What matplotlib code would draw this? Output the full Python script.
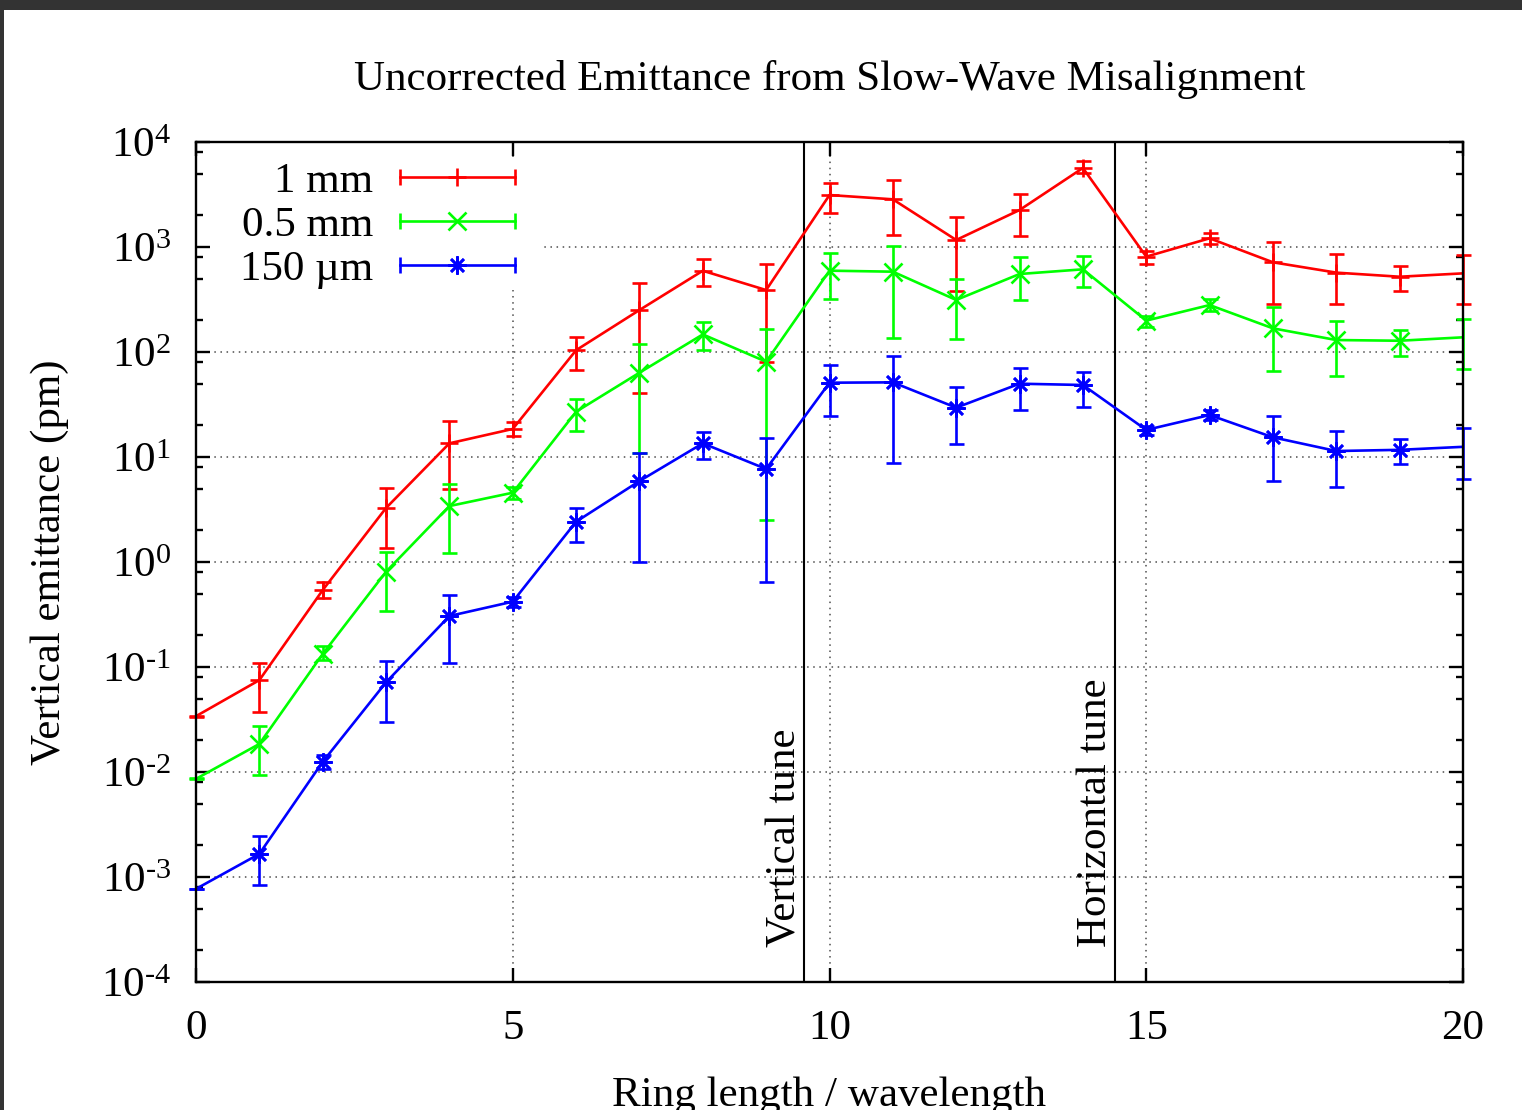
import numpy as np
import matplotlib
matplotlib.use('Agg')
import matplotlib.pyplot as plt
import matplotlib.transforms as mtransforms
from matplotlib.patches import Rectangle
from matplotlib.ticker import LogLocator, FixedLocator, NullFormatter, FuncFormatter

plt.rcParams['font.family'] = ['Liberation Serif', 'DejaVu Serif']
plt.rcParams['mathtext.default'] = 'regular'
plt.rcParams['mathtext.fontset'] = 'custom'
plt.rcParams['mathtext.rm'] = 'Liberation Serif'

# ring length / wavelength
ring = np.arange(21)

# 1 mm misalignment
emit_1mm = [0.034, 0.075, 0.54, 3.27, 13.5, 18.5, 104, 251, 594, 389, 3126, 2845,
            1166, 2250, 5654, 809, 1210, 715, 570, 521, 561]
lo_1mm = [0.0335, 0.037, 0.45, 1.36, 4.93, 15.8, 67, 41, 425, 79.8, 2108, 1292,
          383, 1273, 5070, 689, 1075, 288, 288, 381, 288]
hi_1mm = [0.0345, 0.109, 0.64, 5.07, 22, 21.4, 139, 454, 769, 689, 4070, 4348,
          1919, 3199, 6590, 922, 1359, 1116, 858, 655, 839]

# 0.5 mm misalignment
emit_05mm = [0.0086, 0.0185, 0.133, 0.808, 3.41, 4.57, 27.0, 63.5, 147, 80.8, 595, 582,
             313, 553, 613, 199, 280, 168, 130, 128, 138]
lo_05mm = [0.00852, 0.0094, 0.117, 0.344, 1.21, 3.96, 17.7, 10.9, 104, 2.51, 318, 135,
           132, 313, 413, 174, 247, 66.4, 59.5, 91.6, 68.9]
hi_05mm = [0.00868, 0.0274, 0.16, 1.25, 5.53, 5.21, 35.7, 118, 192, 165, 871, 1029,
           492, 798, 820, 220, 318, 270, 197, 162, 206]

# 150 um misalignment
emit_150um = [0.00077, 0.00166, 0.0125, 0.0715, 0.306, 0.419, 2.42, 5.9, 13.5, 7.69, 51, 51.4,
              29.5, 49.9, 48.5, 18.1, 25.1, 15.4, 11.4, 11.7, 12.5]
lo_150um = [0.000763, 0.00084, 0.0106, 0.0301, 0.108, 0.37, 1.56, 1.0, 9.64, 0.65, 24.6, 8.7,
            13.3, 28, 30.1, 16.2, 22.5, 5.95, 5.2, 8.58, 6.17]
hi_150um = [0.000777, 0.00247, 0.0145, 0.113, 0.489, 0.467, 3.25, 10.8, 17.3, 15.1, 75.2, 91.6,
            46.4, 70.4, 64.9, 19.9, 28, 24.6, 17.7, 14.7, 19]

tunes = [9.6, 14.5]
tune_labels = ['Vertical tune', 'Horizontal tune']

series = [
    ('1 mm', emit_1mm, lo_1mm, hi_1mm, '#ff0000', '+'),
    ('0.5 mm', emit_05mm, lo_05mm, hi_05mm, '#00ff00', 'x'),
    ('150 \u00b5m', emit_150um, lo_150um, hi_150um, '#0000ff', (8, 2, 0)),
]

W, H = 1522, 1110
fig = plt.figure(figsize=(W / 100, H / 100), dpi=100)
fig.patch.set_facecolor('#333333')
fig.patches.append(Rectangle((4 / W, 0), 1, 1 - 10 / H, transform=fig.transFigure,
                             facecolor='white', edgecolor='none', zorder=-10))

L, R, T, B = 196, 1463, 142, 982
ax = fig.add_axes([L / W, 1 - B / H, (R - L) / W, (B - T) / H])
ax.set_facecolor('white')
ax.set_yscale('log')
ax.set_xlim(0, 20)
ax.set_ylim(1e-4, 1e4)
ax.set_axisbelow(True)

fs = 31
lw = 1.9
ms = 13


def ax_px(px, py):
    return (px - L) / (R - L), (B - py) / (B - T)


for name, val, lo, hi, col, mk in series:
    val = np.array(val)
    yerr = [val - np.array(lo), np.array(hi) - val]
    ax.plot(ring, val, color=col, lw=lw, zorder=3)
    eb = ax.errorbar(ring, val, yerr=yerr, fmt='none', ecolor=col, elinewidth=lw,
                     capsize=5.4, capthick=lw, zorder=3)
    for art in eb.lines[1]:
        art.set_clip_on(False)
    for art in eb.lines[2]:
        art.set_clip_on(False)
    # gnuplot leaves out the points sitting on the frame
    ax.plot(ring[1:-1], val[1:-1], ls='none', marker=mk, ms=ms, mew=lw, color=col, zorder=4)

# tune lines and labels
for tx, lab in zip(tunes, tune_labels):
    ax.axvline(tx, color='black', lw=1.5, zorder=2.6)
    tr = mtransforms.blended_transform_factory(ax.transData, ax.transAxes)
    tr = mtransforms.offset_copy(tr, fig=fig, x=-9, y=0, units='dots')
    ax.text(tx, 0.0417, lab, transform=tr, rotation=90, rotation_mode='anchor',
            ha='left', va='baseline', fontsize=fs, zorder=5)

# grid
ax.grid(True, which='major', color='0.3', ls=(0, (1, 3)), lw=1.1)

# white box behind legend
x0, y0 = ax_px(212, 290)
x1, y1 = ax_px(540, 157)
ax.add_patch(Rectangle((x0, y0), x1 - x0, y1 - y0, transform=ax.transAxes,
                       facecolor='white', edgecolor='none', zorder=1))

# legend
rows = [177, 220.5, 265]
for (name, val, lo, hi, col, mk), ry in zip(series, rows):
    tx, ty = ax_px(373, ry + 15)
    ax.text(tx, ty, name, transform=ax.transAxes, ha='right', va='baseline', fontsize=fs)
    xa, ya = ax_px(400, ry)
    xb, _ = ax_px(515, ry)
    xm, _ = ax_px(457, ry)
    ax.plot([xa, xb], [ya, ya], transform=ax.transAxes, color=col, lw=lw, clip_on=False)
    ax.plot([xa, xb], [ya, ya], transform=ax.transAxes, ls='none', marker='|', ms=11,
            mew=lw, color=col, clip_on=False)
    ax.plot([xm], [ya], transform=ax.transAxes, ls='none', marker=mk, ms=ms, mew=lw,
            color=col, clip_on=False)

# ticks
ax.xaxis.set_major_locator(FixedLocator([0, 5, 10, 15, 20]))
ax.yaxis.set_major_locator(LogLocator(base=10, numticks=20))
ax.yaxis.set_minor_locator(LogLocator(base=10, subs=[2, 5, 8], numticks=20))
ax.yaxis.set_minor_formatter(NullFormatter())


def exp_fmt(v, pos):
    e = int(round(np.log10(v)))
    return '$10^{%s}$' % str(e).replace('-', '\u2010')


ax.yaxis.set_major_formatter(FuncFormatter(exp_fmt))
ax.tick_params(which='both', direction='in', top=True, right=True, width=1.7, labelsize=fs)
ax.tick_params(which='major', length=10)
ax.tick_params(which='minor', length=5)
ax.tick_params(axis='x', pad=20)
ax.tick_params(axis='y', pad=18)
for lab in ax.get_xticklabels():
    lab.set_x(lab.get_position()[0])
ax.xaxis.set_major_formatter(FuncFormatter(lambda v, p: '%d' % v))
for sp in ax.spines.values():
    sp.set_linewidth(1.7)
    sp.set_zorder(5)

fig.text((L + R) / 2 / W, 1 - 90 / H, 'Uncorrected Emittance from Slow-Wave Misalignment',
         ha='center', va='baseline', fontsize=fs)
fig.text(50 / W, 1 - 562 / H, 'Vertical emittance (pm)', rotation=90,
         ha='center', va='center', fontsize=fs)
fig.text(829 / W, 1 - 1106 / H, 'Ring length / wavelength', ha='center', va='baseline',
         fontsize=fs)

fig.savefig('out.png', dpi=100, facecolor=fig.get_facecolor())
